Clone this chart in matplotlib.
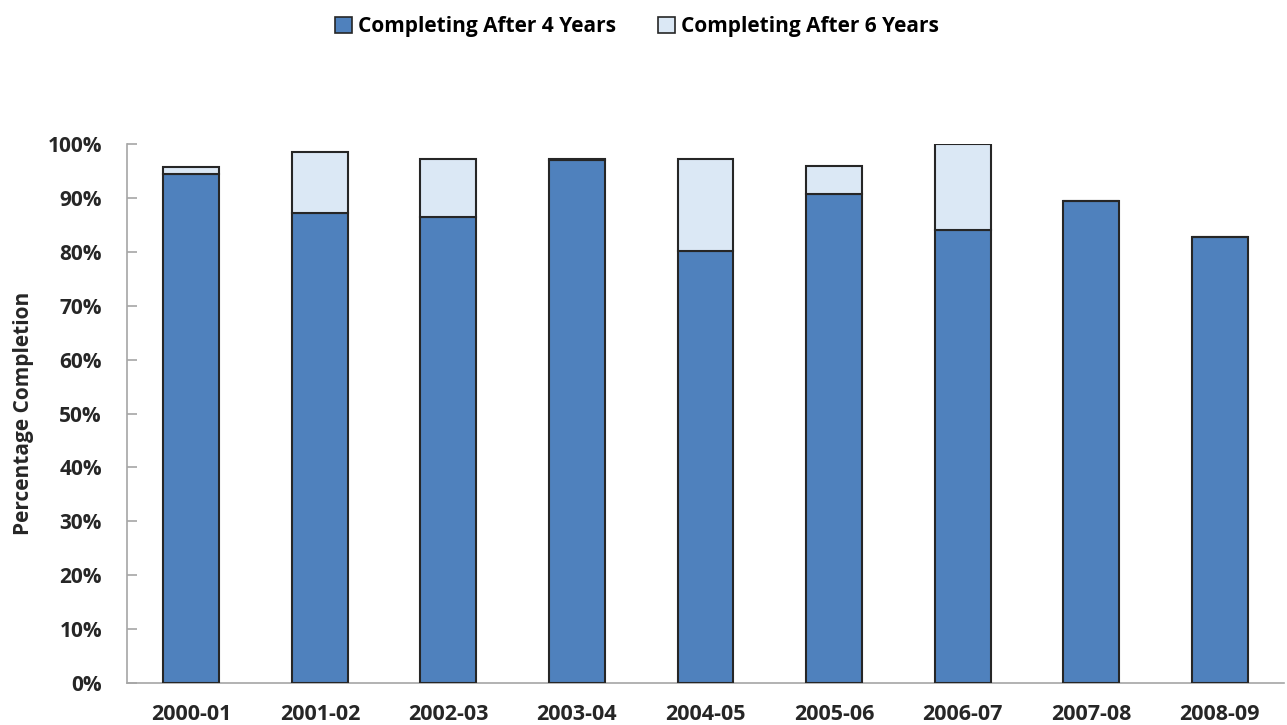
import numpy as np
import matplotlib.pyplot as plt
from matplotlib.patches import Patch

years = ["2000-01", "2001-02", "2002-03", "2003-04", "2004-05",
         "2005-06", "2006-07", "2007-08", "2008-09"]
after_4 = [94.4, 87.2, 86.5, 97.1, 80.1, 90.7, 84.0, 89.4, 82.7]
after_6 = [95.7, 98.6, 97.2, 97.3, 97.2, 96.0, 100.0, np.nan, np.nan]

dark = "#4F81BD"
light = "#DBE8F5"
edge = "#262626"
plt.rcParams['font.family'] = ['Open Sans', 'DejaVu Sans']

fig = plt.figure(figsize=(12.87, 7.25), dpi=100)
ax = fig.add_axes([0.0987, 0.0579, 0.899, 0.7435])

x = np.arange(len(years))
w = 0.435
# extra part after 6 years stacked on top of the 4-year part
extra = [a6 - a4 if not np.isnan(a6) else 0 for a4, a6 in zip(after_4, after_6)]
ax.bar(x, after_4, w, color=dark, edgecolor=edge, linewidth=1.5, zorder=3)
ax.bar(x, extra, w, bottom=after_4, color=light, edgecolor=edge, linewidth=1.5, zorder=3)

ax.set_xlim(-0.5, len(years) - 0.5)
ax.set_ylim(0, 100)
ax.set_yticks(np.arange(0, 101, 10))
ax.set_yticklabels([f"{v}%" for v in range(0, 101, 10)], fontsize=15, fontweight='bold', color="#262626")
ax.set_xticks(x)
ax.set_xticklabels(years, fontsize=15.5, fontweight='bold', color="#262626")
ax.tick_params(axis='x', length=0, pad=15)
ax.tick_params(axis='y', direction='in', length=7, color="#A6A6A6", width=1.2, pad=18)

for s in ['top', 'right']:
    ax.spines[s].set_visible(False)
for s in ['left', 'bottom']:
    ax.spines[s].set_color("#A6A6A6")
    ax.spines[s].set_linewidth(1.2)

ax.set_ylabel("Percentage Completion", fontsize=15, fontweight='bold', color="#262626", labelpad=10)

handles = [Patch(facecolor=dark, edgecolor=edge, linewidth=1.2),
           Patch(facecolor=light, edgecolor=edge, linewidth=1.2)]
fig.legend(handles, ["Completing After 4 Years", "Completing After 6 Years"],
           loc='center', bbox_to_anchor=(0.495, 0.963), ncol=2, frameon=False,
           prop={'size': 15, 'weight': 'bold'}, handlelength=0.8, handleheight=0.8,
           handletextpad=0.3, columnspacing=2.0)

fig.savefig("out.png", dpi=100)
